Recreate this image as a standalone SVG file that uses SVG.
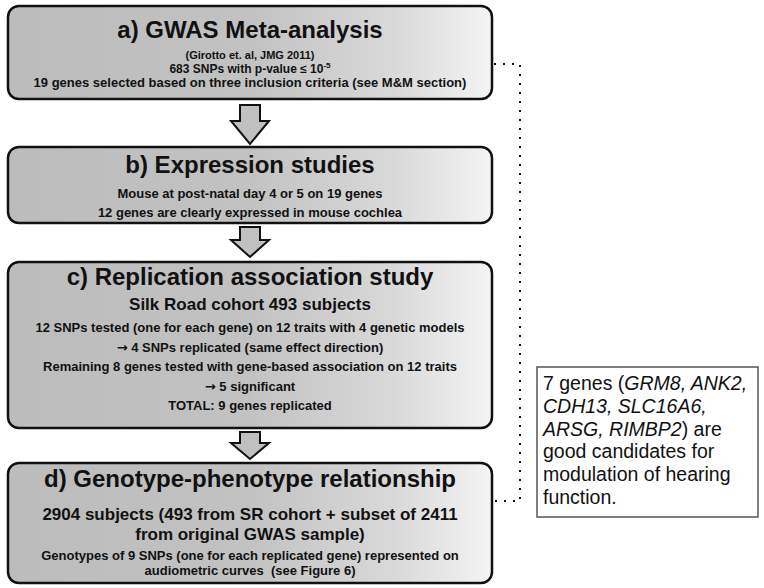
<svg xmlns="http://www.w3.org/2000/svg" width="764" height="588" viewBox="0 0 764 588">
<defs>
<linearGradient id="boxfill" x1="0" y1="0" x2="1" y2="0">
<stop offset="0" stop-color="#bcbcbc"/>
<stop offset="0.5" stop-color="#c2c2c2"/>
<stop offset="0.8" stop-color="#d9d9d9"/>
<stop offset="1" stop-color="#f4f4f4"/>
</linearGradient>
<style>
.box{fill:url(#boxfill);stroke:#111;stroke-width:2.5}
.arrow{fill:#c0c0c0;stroke:#111;stroke-width:2;stroke-linejoin:miter}
.t{font-family:"Liberation Sans",Arial,Helvetica,sans-serif;font-weight:bold;fill:#111;text-anchor:middle}
.title{font-size:24px}
.sub{font-size:17px}
.s{font-size:13px}
.xs{font-size:11px}
.ar{font-family:"DejaVu Sans",sans-serif;font-weight:bold}
.note{font-family:"Liberation Sans",Arial,Helvetica,sans-serif;font-size:19.5px;fill:#111}
.dot{fill:none;stroke:#111;stroke-width:2;stroke-dasharray:2 7}
</style>
</defs>
<rect width="764" height="588" fill="#fff"/>
<g id="connectors">
<path class="arrow" d="M240 105 H260 V121 H269 L250 144 L231 121 H240 Z"/>
<path class="arrow" d="M240 227 H260 V240 H269 L250 257 L231 240 H240 Z"/>
<path class="arrow" d="M240 432 H260 V443 H269 L250 459 L231 443 H240 Z"/>
<path class="dot" d="M494 64 H520 V501 H494"/>
</g>
<g id="box-a">
<rect class="box" x="8" y="6" width="484" height="93" rx="11"/>
<text class="t title" x="250" y="38">a) GWAS Meta-analysis</text>
<text class="t xs" x="250" y="59">(Girotto et. al, JMG 2011)</text>
<text class="t" x="250" y="72.5" style="font-size:12px">683 SNPs with p-value ≤ 10<tspan dy="-5" style="font-size:8px">-5</tspan></text>
<text class="t s" x="250" y="87">19 genes selected based on three inclusion criteria (see M&amp;M section)</text>
</g>
<g id="box-b">
<rect class="box" x="8" y="147" width="484" height="76" rx="11"/>
<text class="t title" x="250" y="173">b) Expression studies</text>
<text class="t s" x="250" y="198">Mouse at post-natal day 4 or 5 on 19 genes</text>
<text class="t s" x="250" y="217">12 genes are clearly expressed in mouse cochlea</text>
</g>
<g id="box-c">
<rect class="box" x="8" y="262" width="484" height="166" rx="11"/>
<text class="t title" x="250" y="285">c) Replication association study</text>
<text class="t sub" x="250" y="310">Silk Road cohort 493 subjects</text>
<text class="t s" x="250" y="332">12 SNPs tested (one for each gene) on 12 traits with 4 genetic models</text>
<text class="t s" x="250" y="352"><tspan class="ar">→</tspan> 4 SNPs replicated (same effect direction)</text>
<text class="t s" x="250" y="371">Remaining 8 genes tested with gene-based association on 12 traits</text>
<text class="t s" x="250" y="391"><tspan class="ar">→</tspan> 5 significant</text>
<text class="t s" x="250" y="410">TOTAL: 9 genes replicated</text>
</g>
<g id="box-d">
<rect class="box" x="8" y="463" width="484" height="120" rx="11"/>
<text class="t title" x="250" y="487">d) Genotype-phenotype relationship</text>
<text class="t sub" x="250" y="520">2904 subjects (493 from SR cohort + subset of 2411</text>
<text class="t sub" x="250" y="540">from original GWAS sample)</text>
<text class="t s" x="250" y="560">Genotypes of 9 SNPs (one for each replicated gene) represented on</text>
<text class="t s" x="250" y="575" xml:space="preserve">audiometric curves  (see Figure 6)</text>
</g>
<g id="note">
<rect x="537" y="367" width="221" height="150" fill="#fff" stroke="#555" stroke-width="1.5"/>
<text class="note" x="543" y="390">7 genes (<tspan font-style="italic">GRM8, ANK2,</tspan></text>
<text class="note" x="543" y="413" font-style="italic">CDH13, SLC16A6,</text>
<text class="note" x="543" y="436"><tspan font-style="italic">ARSG, RIMBP2</tspan>) are</text>
<text class="note" x="543" y="458">good candidates for</text>
<text class="note" x="543" y="481">modulation of hearing</text>
<text class="note" x="543" y="504">function.</text>
</g>
</svg>
